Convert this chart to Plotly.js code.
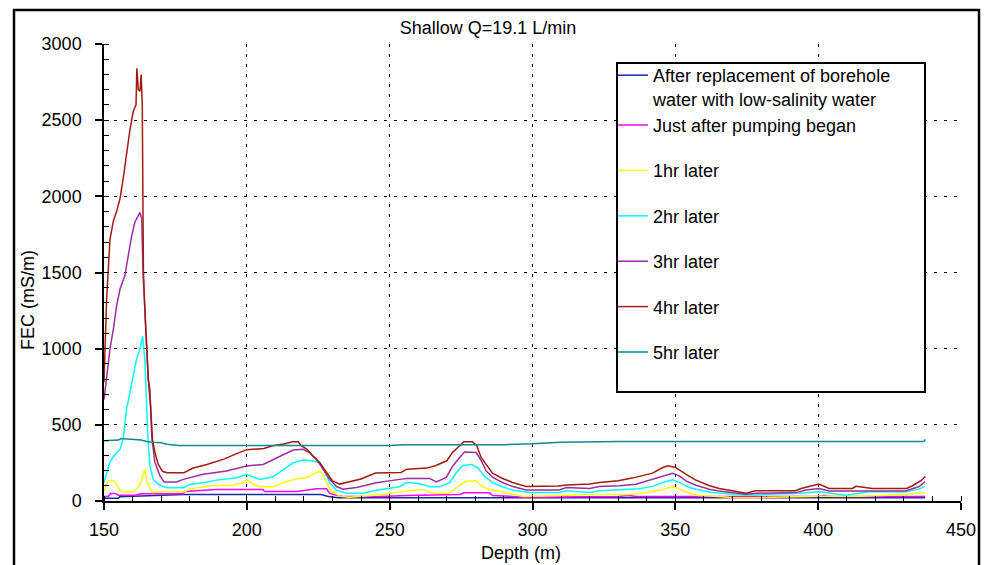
<!DOCTYPE html>
<html>
<head>
<meta charset="utf-8">
<script src="https://cdn.plot.ly/plotly-3.0.1.min.js"></script>
<style>
  html, body { margin: 0; padding: 0; background: #fff; }
  #chart { width: 987px; height: 565px; }
</style>
</head>
<body>
<div id="chart"></div>
<script>
// Fluid electrical conductivity logs, shallow pumping test (Q = 19.1 L/min)

// After replacement of borehole water with low-salinity water
var depthRep = [150, 155, 155.5, 170, 178, 226, 228.5, 232, 437.4];
var fecRep   = [18, 18, 28, 35, 42, 42, 30, 22, 22];

// Just after pumping began
var depthPump = [150, 151.5, 152.3, 154, 155, 161, 163, 177.7, 178.2, 189.4, 205.7, 206.2, 217.4, 224.4, 227.9, 229, 231, 233.7, 247, 255.8, 274.5, 276, 284.9, 286, 293.1, 297, 330, 333.8, 336, 400, 402, 405, 437.4];
var fecPump   = [30, 30, 50, 50, 38, 38, 48, 48, 62, 76, 76, 62, 62, 80, 80, 50, 40, 30, 30, 36, 43, 54, 54, 36, 30, 25, 30, 36, 30, 30, 36, 30, 30];

// 1hr later
var depth1h = [150, 150.6, 151.3, 152, 153.5, 154.5, 155.5, 156.5, 160, 161, 162, 163, 163.6, 164.3, 165, 166, 167, 170, 178, 180.1, 188.2, 194, 198.7, 199.9, 202.2, 204.5, 209.2, 212.7, 217.4, 220.9, 223.2, 225.5, 226.7, 227.9, 229.6, 232.5, 236, 247.6, 255.8, 261.6, 265.1, 271, 274.5, 276.8, 280.3, 282.6, 284.9, 289.6, 293.1, 297, 309.4, 320, 333.9, 339.5, 345.6, 349, 351.4, 354.9, 358.4, 365.4, 370, 378, 400, 415, 431, 435, 437.4];
var fec1h   = [60, 100, 125, 135, 135, 100, 70, 60, 60, 72, 92, 125, 160, 210, 125, 85, 55, 60, 60, 80, 102, 102, 120, 142, 110, 94, 94, 120, 146, 153, 174, 196, 174, 120, 65, 32, 25, 43, 65, 76, 49, 54, 102, 131, 131, 94, 76, 58, 43, 30, 36, 43, 43, 54, 76, 94, 80, 49, 36, 30, 21, 21, 32, 32, 43, 54, 54];

// 2hr later
var depth2h = [150, 150.9, 152, 153.3, 155.6, 156.7, 157.9, 159.1, 160.2, 161.4, 162.6, 163.5, 164.3, 164.8, 165.4, 166.1, 167.2, 169, 171.9, 178, 180, 184.7, 189.4, 196.4, 199.9, 202.2, 204.5, 209.2, 212.7, 216.2, 219.7, 223.2, 225.5, 227.3, 229, 231.4, 234.9, 240.7, 245.3, 253.5, 255.8, 258.1, 261.6, 264, 267.5, 271, 273.3, 275.6, 278.6, 280.9, 283.2, 286.1, 289.6, 293.1, 299, 309.4, 311.8, 320, 323.4, 333.9, 337.4, 342.1, 345.6, 349, 351.4, 354.9, 359.5, 363, 374.7, 393.4, 400.3, 409.7, 417.9, 430.7, 435.3, 437.4];
var fec2h   = [120, 185, 253, 293, 339, 405, 602, 714, 819, 931, 997, 1083, 931, 622, 405, 227, 142, 109, 87, 87, 109, 120, 137, 153, 174, 159, 142, 159, 207, 251, 269, 262, 251, 196, 120, 71, 51, 51, 71, 94, 120, 120, 109, 94, 94, 120, 185, 234, 240, 218, 163, 120, 94, 71, 56, 56, 67, 56, 67, 78, 80, 96, 122, 139, 122, 89, 67, 56, 38, 51, 60, 38, 60, 60, 78, 96];

// 3hr later
var depth3h = [150, 150.2, 150.9, 152.1, 153.3, 154.4, 155.6, 157.3, 158.5, 159.7, 160.8, 162, 162.6, 163.2, 163.7, 164.5, 165.1, 165.5, 166.1, 166.7, 167.8, 169.6, 171, 175.4, 177.7, 184.7, 192.9, 199.9, 205.7, 209.2, 212.7, 216.2, 219.7, 222, 224.4, 226.7, 229, 231.4, 233.7, 238.4, 245.3, 253.5, 255.8, 264, 266.3, 269.8, 272.1, 274.5, 276.2, 280.3, 282.1, 283.8, 286.1, 289.6, 293.1, 297.8, 309.4, 311.8, 320, 323.4, 330.4, 336.2, 342.1, 346.7, 349, 351.4, 353.7, 357.2, 361.9, 365.4, 374.7, 378.2, 392.2, 395.7, 400.3, 403.8, 430.7, 435.3, 437.4];
var fec3h   = [665, 700, 800, 1000, 1130, 1280, 1390, 1480, 1610, 1740, 1830, 1870, 1895, 1850, 1480, 1190, 995, 800, 730, 425, 255, 165, 125, 125, 142, 175, 197, 230, 240, 273, 306, 335, 340, 318, 273, 207, 142, 95, 77, 88, 120, 142, 148, 148, 125, 155, 230, 285, 322, 318, 263, 197, 155, 120, 95, 72, 72, 88, 82, 95, 100, 110, 143, 170, 182, 165, 132, 103, 77, 66, 45, 51, 55, 72, 82, 66, 66, 95, 125];

// 4hr later
var depth4h = [150, 150.3, 150.9, 152.1, 153.3, 154.4, 155.6, 156.7, 157.9, 159.1, 160.2, 161.2, 161.5, 162, 162.6, 163, 163.4, 163.8, 164.5, 165.5, 166.3, 167, 167.8, 169, 170.5, 172, 178, 181, 186, 192, 196, 200, 206, 209, 213, 216, 218, 219, 221, 223, 225.5, 228, 230, 232.5, 236, 240, 245, 254, 256, 263, 266, 270, 272, 274.5, 276, 279, 280.5, 282, 284, 286, 289.5, 293, 297.8, 309, 312, 320, 323.5, 330, 334, 336, 342, 345.6, 347.5, 350, 353.7, 357, 362, 365.4, 370, 374.7, 378, 392, 394, 397, 400.3, 403.8, 412, 413.2, 419, 431, 433, 436, 437.5];
var fec4h   = [780, 950, 1320, 1720, 1840, 1900, 1985, 2115, 2290, 2440, 2555, 2600, 2840, 2700, 2690, 2800, 2600, 1500, 1170, 800, 620, 400, 320, 240, 195, 186, 186, 215, 240, 275, 308, 337, 345, 363, 374, 389, 389, 363, 341, 297, 253, 187, 132, 111, 126, 144, 183, 187, 209, 216, 231, 264, 319, 363, 389, 389, 363, 286, 231, 183, 148, 122, 96, 98, 105, 111, 122, 133, 148, 155, 183, 220, 231, 220, 176, 139, 100, 82, 67, 51, 67, 67, 82, 96, 111, 82, 82, 96, 82, 82, 100, 133, 161];

// 5hr later
var depth5h = [150, 155, 156, 160, 163, 165, 167, 170, 172, 176, 250, 255, 290, 300, 310, 330, 437, 437.5];
var fec5h   = [395, 400, 410, 405, 400, 390, 385, 383, 372, 365, 365, 370, 370, 375, 385, 390, 390, 405];

var seriesNames = [
  'After replacement of borehole<br>water with low-salinity water',
  'Just after pumping began',
  '1hr later', '2hr later', '3hr later', '4hr later', '5hr later'
];
var seriesColors = ['#1c2a9c', '#ff00ff', '#ffff00', '#00ffff', '#9a2fa0', '#a01c10', '#088c8c'];
var seriesDepths = [depthRep, depthPump, depth1h, depth2h, depth3h, depth4h, depth5h];
var seriesValues = [fecRep, fecPump, fec1h, fec2h, fec3h, fec4h, fec5h];
var seriesGroups = ['g0', 'g0', 'g1', 'g2', 'g3', 'g4', 'g5'];

var FONT = 'Liberation Sans, Arial, sans-serif';

var traces = seriesNames.map(function (name, i) {
  return {
    type: 'scatter',
    mode: 'lines',
    name: name,
    x: seriesDepths[i],
    y: seriesValues[i],
    legendgroup: seriesGroups[i],
    line: { color: seriesColors[i], width: 1.5 },
    hoverinfo: 'x+y+name'
  };
});

// plot area in pixels: left 104, right 961, top 44, bottom 501
function px2paperX(px) { return (px - 104) / 857; }
function px2paperY(py) { return (501 - py) / 457; }

var layout = {
  width: 987,
  height: 565,
  margin: { l: 104, r: 26, t: 44, b: 64, pad: 0 },
  paper_bgcolor: '#ffffff',
  plot_bgcolor: '#ffffff',
  font: { family: FONT, size: 18, color: '#000' },
  showlegend: true,
  title: {
    text: 'Shallow Q=19.1 L/min',
    font: { family: FONT, size: 18, color: '#000' },
    xref: 'paper', x: px2paperX(488), xanchor: 'center',
    yref: 'container', y: 1 - 28 / 565, yanchor: 'middle'
  },
  xaxis: {
    range: [150, 450],
    tickmode: 'linear', tick0: 150, dtick: 50,
    ticks: 'outside', ticklen: 7, tickwidth: 1.5, tickcolor: '#000',
    ticklabelstandoff: 5,
    showline: true, linecolor: '#000', linewidth: 1.5,
    showgrid: true, gridcolor: '#000', gridwidth: 1, griddash: '3px,7px',
    zeroline: false,
    minor: { dtick: 10, ticks: 'inside', ticklen: 5, tickwidth: 1, tickcolor: '#000', showgrid: false },
    tickfont: { family: FONT, size: 18, color: '#000' },
    fixedrange: true
  },
  yaxis: {
    range: [0, 3000],
    tickmode: 'linear', tick0: 0, dtick: 500,
    ticks: 'outside', ticklen: 7, tickwidth: 1.5, tickcolor: '#000',
    ticklabelstandoff: 10,
    showline: true, linecolor: '#000', linewidth: 1.5,
    showgrid: true, gridcolor: '#000', gridwidth: 1, griddash: '3px,7px',
    zeroline: false,
    minor: { dtick: 100, ticks: 'inside', ticklen: 5, tickwidth: 1, tickcolor: '#000', showgrid: false },
    tickfont: { family: FONT, size: 18, color: '#000' },
    fixedrange: true
  },
  legend: {
    x: px2paperX(613), xanchor: 'left',
    y: px2paperY(57), yanchor: 'top',
    bgcolor: 'rgba(0,0,0,0)',
    borderwidth: 0,
    font: { family: FONT, size: 18, color: '#000' },
    traceorder: 'grouped',
    tracegroupgap: 19,
    valign: 'top',
    itemclick: false, itemdoubleclick: false
  },
  annotations: [
    {
      text: 'Depth (m)', showarrow: false,
      xref: 'paper', yref: 'paper',
      x: px2paperX(521), y: px2paperY(553),
      xanchor: 'center', yanchor: 'middle',
      font: { family: FONT, size: 18, color: '#000' }
    },
    {
      text: 'FEC (mS/m)', showarrow: false, textangle: -90,
      xref: 'paper', yref: 'paper',
      x: px2paperX(28), y: px2paperY(300),
      xanchor: 'center', yanchor: 'middle',
      font: { family: FONT, size: 18, color: '#000' }
    }
  ],
  shapes: [
    // legend box
    {
      type: 'rect', xref: 'paper', yref: 'paper', layer: 'above',
      x0: px2paperX(617), x1: px2paperX(925),
      y0: px2paperY(392), y1: px2paperY(63),
      line: { color: '#000', width: 2 }, fillcolor: '#ffffff'
    },
    // outer chart frame
    {
      type: 'rect', xref: 'paper', yref: 'paper', layer: 'above',
      x0: px2paperX(14), x1: px2paperX(979),
      y0: px2paperY(600), y1: px2paperY(10),
      line: { color: '#000', width: 2.5 }, fillcolor: 'rgba(0,0,0,0)'
    }
  ]
};

Plotly.newPlot('chart', traces, layout, { displayModeBar: false, responsive: false });
</script>
</body>
</html>
